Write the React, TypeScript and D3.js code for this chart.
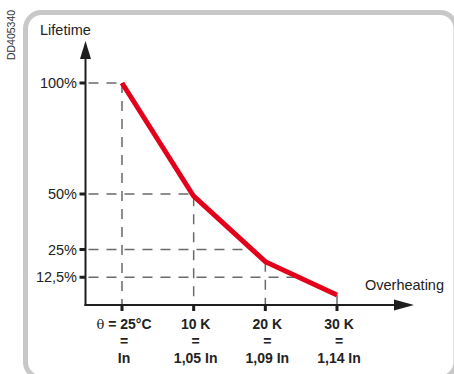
import React from "react";
import * as d3 from "d3";

const overheatK = [0, 10, 20, 30];
const lifetimePct = [100, 49, 19.5, 4.5];
const yTicks = [100, 50, 25, 12.5];
const yTickLabels = ["100%", "50%", "25%", "12,5%"];
const xLabelTop = ["θ = 25°C", "10 K", "20 K", "30 K"];
const xLabelBottom = ["In", "1,05 In", "1,09 In", "1,14 In"];

const W = 454;
const H = 374;
const FONT = "'Liberation Sans', Arial, Helvetica, sans-serif";

export default function App() {
  const x = d3.scaleLinear().domain([0, 30]).range([122, 337]);
  const y = d3.scaleLinear().domain([0, 100]).range([305, 83]);
  const x0 = 85.5;
  const y0 = 305;

  const pts: [number, number][] = overheatK.map((k, i) => [x(k), y(lifetimePct[i])]);
  const line = d3.line<[number, number]>().x((d) => d[0]).y((d) => d[1]);

  // where the red line crosses a given lifetime value
  const crossX = (v: number) => {
    for (let i = 0; i < lifetimePct.length - 1; i++) {
      const a = lifetimePct[i], b = lifetimePct[i + 1];
      if ((a - v) * (b - v) <= 0) {
        const t = (a - v) / (a - b);
        return x(overheatK[i] + t * (overheatK[i + 1] - overheatK[i]));
      }
    }
    return x(overheatK[0]);
  };

  const dashColor = "#6a6a6a";
  const axisColor = "#1e1e1e";

  return (
    <svg
      width={W}
      height={H}
      style={{ position: "absolute", left: 0, top: 0, background: "#fff" }}
      fontFamily={FONT}
    >
      {/* frame */}
      <rect x={25.5} y={12.5} width={430.5} height={365.5} rx={16} fill="none" stroke="#c8c8c8" strokeWidth={5} />

      {/* document code */}
      <text
        transform="translate(15,35) rotate(-90)"
        textAnchor="middle"
        fontSize={10.5}
        fill="#333"
      >
        DD405340
      </text>

      {/* horizontal guides */}
      {yTicks.map((v, i) => (
        <line
          key={"h" + i}
          x1={x0 + 3}
          x2={i === 0 ? x(0) : crossX(v)}
          y1={y(v)}
          y2={y(v)}
          stroke={dashColor}
          strokeWidth={1.5}
          strokeDasharray="10,8"
        />
      ))}

      {/* vertical guides */}
      {overheatK.map((k, i) => (
        <line
          key={"v" + i}
          x1={x(k)}
          x2={x(k)}
          y1={y(lifetimePct[i])}
          y2={y0}
          stroke={dashColor}
          strokeWidth={1.5}
          strokeDasharray={i === overheatK.length - 1 ? undefined : "10,8"}
        />
      ))}

      {/* axes */}
      <line x1={x0} x2={x0} y1={58} y2={y0 + 1} stroke={axisColor} strokeWidth={2} />
      <path d={`M${x0},41 L${x0 + 5.5},59 L${x0 - 5.5},59 Z`} fill={axisColor} />
      <line x1={x0 - 1} x2={396} y1={y0} y2={y0} stroke={axisColor} strokeWidth={2} />
      <path d={`M414,${y0} L394,${y0 - 5.5} L394,${y0 + 5.5} Z`} fill={axisColor} />

      {/* y ticks */}
      {yTicks.map((v, i) => (
        <g key={"yt" + i}>
          <rect x={x0 - 6} y={y(v) - 1.5} width={6} height={3} fill={axisColor} />
          <text x={77} y={y(v) + 5} textAnchor="end" fontSize={14.5} fill="#222">
            {yTickLabels[i]}
          </text>
        </g>
      ))}

      {/* x ticks */}
      {overheatK.map((k, i) => (
        <g key={"xt" + i}>
          <rect x={x(k) - 1.5} y={y0} width={3} height={6} fill={axisColor} />
          <text x={x(k) + 2} y={329} textAnchor="middle" fontSize={14} fontWeight="bold" fill="#222">
            {i === 0 ? (
              <>
                <tspan fontWeight="normal" fontFamily="'DejaVu Serif', serif" fontSize={13}>θ</tspan>
                <tspan>{xLabelTop[i].slice(1)}</tspan>
              </>
            ) : (
              xLabelTop[i]
            )}
          </text>
          <text x={x(k) + 2} y={346} textAnchor="middle" fontSize={14} fontWeight="bold" fill="#222">
            =
          </text>
          <text x={x(k) + 2} y={363} textAnchor="middle" fontSize={14} fontWeight="bold" fill="#222">
            {xLabelBottom[i]}
          </text>
        </g>
      ))}

      {/* axis titles */}
      <text x={40} y={35} fontSize={14.5} fill="#222">Lifetime</text>
      <text x={365} y={290} fontSize={14.5} fill="#222">Overheating</text>

      {/* curve */}
      <path d={line(pts) || ""} fill="none" stroke="#e2001a" strokeWidth={5} strokeLinejoin="miter" />
    </svg>
  );
}
